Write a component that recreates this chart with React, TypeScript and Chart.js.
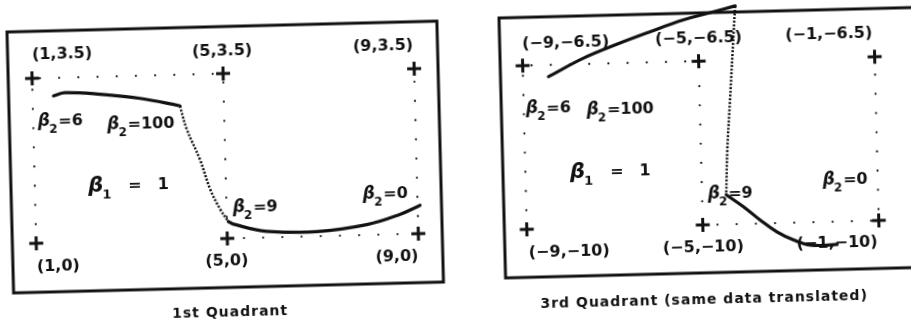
import React, { useEffect, useRef } from "react";
import { Chart, registerables } from "chart.js";

Chart.register(...registerables);

type Pt = { x: number; y: number };

// ---------- First quadrant ----------
const q1Guide: Pt[] = [
  { x: 1, y: 0 }, { x: 1, y: 3.5 }, { x: 5, y: 3.5 },
  { x: 5, y: 0 }, { x: 9, y: 0 }, { x: 9, y: 3.5 },
];
const q1Corners: Pt[] = [
  { x: 1, y: 3.5 }, { x: 5, y: 3.5 }, { x: 9, y: 3.5 },
  { x: 1, y: 0 }, { x: 5, y: 0 }, { x: 9, y: 0 },
];
const q1CornerText = ["(1,3.5)", "(5,3.5)", "(9,3.5)", "(1,0)", "(5,0)", "(9,0)"];
const q1CornerTextAt: Pt[] = [
  { x: 1.64, y: 4.0 }, { x: 4.99, y: 3.98 }, { x: 8.36, y: 4.0 },
  { x: 1.45, y: -0.5 }, { x: 4.98, y: -0.49 }, { x: 8.54, y: -0.48 },
];
// beta2 from 6 up to 100
const q1UpperArc: Pt[] = [
  { x: 1.44, y: 3.12 }, { x: 1.68, y: 3.18 }, { x: 2.42, y: 3.13 },
  { x: 3.25, y: 3.02 }, { x: 4.08, y: 2.84 },
];
// jump between beta2 = 100 and beta2 = 9
const q1Bridge: Pt[] = [
  { x: 4.08, y: 2.84 }, { x: 4.21, y: 2.34 }, { x: 4.47, y: 1.69 },
  { x: 4.67, y: 1.05 }, { x: 4.87, y: 0.62 }, { x: 5.03, y: 0.36 },
];
// beta2 from 9 down to 0
const q1LowerArc: Pt[] = [
  { x: 5.03, y: 0.36 }, { x: 5.14, y: 0.3 }, { x: 5.83, y: 0.13 },
  { x: 6.88, y: 0.1 }, { x: 7.93, y: 0.22 }, { x: 8.63, y: 0.42 }, { x: 9.05, y: 0.6 },
];
const q1BetaSub = ["2", "2", "1", "2", "2"];
const q1BetaRest = ["=6", "=100", "\u2003=\u20031", "=9", "=0"];
const q1BetaAt: Pt[] = [
  { x: 1.57, y: 2.62 }, { x: 3.25, y: 2.5 }, { x: 2.96, y: 1.2 },
  { x: 5.6, y: 0.67 }, { x: 8.33, y: 0.89 },
];

// ---------- Third quadrant (same data translated) ----------
const q3Guide: Pt[] = [
  { x: -9, y: -10 }, { x: -9, y: -6.5 }, { x: -5, y: -6.5 },
  { x: -5, y: -10 }, { x: -1, y: -10 }, { x: -1, y: -6.5 },
];
const q3Corners: Pt[] = [
  { x: -9, y: -6.5 }, { x: -5, y: -6.5 }, { x: -1, y: -6.5 },
  { x: -9, y: -10 }, { x: -5, y: -10 }, { x: -1, y: -10 },
];
const q3CornerText = [
  "(\u22129,\u22126.5)", "(\u22125,\u22126.5)", "(\u22121,\u22126.5)",
  "(\u22129,\u221210)", "(\u22125,\u221210)", "(\u22121,\u221210)",
];
const q3CornerTextAt: Pt[] = [
  { x: -8.01, y: -6.05 }, { x: -4.99, y: -6.03 }, { x: -2.03, y: -6.01 },
  { x: -8.05, y: -10.5 }, { x: -5.0, y: -10.48 }, { x: -1.96, y: -10.47 },
];
const q3UpperArc: Pt[] = [
  { x: -8.42, y: -6.75 }, { x: -7.62, y: -6.375 }, { x: -6.85, y: -6.095 },
  { x: -6.08, y: -5.843 }, { x: -5.32, y: -5.61 }, { x: -4.71, y: -5.47 }, { x: -4.14, y: -5.34 },
];
const q3Bridge: Pt[] = [
  { x: -4.14, y: -5.34 }, { x: -4.19, y: -5.92 }, { x: -4.31, y: -7.35 },
  { x: -4.4, y: -8.41 }, { x: -4.45, y: -9.37 },
];
const q3LowerArc: Pt[] = [
  { x: -4.45, y: -9.37 }, { x: -4.07, y: -9.63 }, { x: -3.69, y: -9.93 },
  { x: -3.32, y: -10.19 }, { x: -2.95, y: -10.37 }, { x: -2.57, y: -10.49 }, { x: -1.96, y: -10.49 },
];
const q3BetaSub = ["2", "2", "1", "2", "2"];
const q3BetaRest = ["=6", "=100", "\u2003=\u20031", "=9", "=0"];
const q3BetaAt: Pt[] = [
  { x: -8.44, y: -7.39 }, { x: -6.81, y: -7.46 }, { x: -7.07, y: -8.78 },
  { x: -4.36, y: -9.31 }, { x: -1.74, y: -9.08 },
];

const INK = "#111";
const FONT = '"DejaVu Sans", "Liberation Sans", sans-serif';

interface PanelSpec {
  id: string;
  left: number;
  top: number;
  areaW: number;
  areaH: number;
  xRange: [number, number];
  yRange: [number, number];
  guide: Pt[];
  corners: Pt[];
  cornerText: string[];
  cornerTextAt: Pt[];
  upper: Pt[];
  bridge: Pt[];
  lower: Pt[];
  betaSub: string[];
  betaRest: string[];
  betaAt: Pt[];
  caption: string;
  captionDx: number;
  captionDy: number;
}

const PAD = { left: 12, top: 14, right: 12, bottom: 44 };

// Greek beta with a numeric subscript, followed by the rest of the note
function drawBeta(ctx: CanvasRenderingContext2D, cx: number, cy: number, sub: string, rest: string, big: boolean) {
  const bSize = big ? 21 : 17;
  const sSize = big ? 13 : 12;
  const rSize = 16;
  ctx.font = `italic bold ${bSize}px ${FONT}`;
  const wB = ctx.measureText("\u03b2").width;
  ctx.font = `bold ${sSize}px ${FONT}`;
  const wS = ctx.measureText(sub).width;
  ctx.font = `bold ${rSize}px ${FONT}`;
  const wR = ctx.measureText(rest).width;
  let x = cx - (wB + wS + wR) / 2;
  const base = cy + 6;
  ctx.textAlign = "left";
  ctx.textBaseline = "alphabetic";
  ctx.font = `italic bold ${bSize}px ${FONT}`;
  ctx.fillText("\u03b2", x, base + (big ? 1 : 0));
  x += wB - 1;
  ctx.font = `bold ${sSize}px ${FONT}`;
  ctx.fillText(sub, x, base + (big ? 8 : 7));
  x += wS + 1;
  ctx.font = `bold ${rSize}px ${FONT}`;
  ctx.fillText(rest, x, base);
}

function makeNotes(spec: PanelSpec) {
  return {
    id: "notes-" + spec.id,
    afterDraw(chart: any) {
      const { ctx, chartArea: a } = chart;
      const xs = chart.scales.x;
      const ys = chart.scales.y;
      ctx.save();
      ctx.strokeStyle = INK;
      ctx.lineWidth = 3;
      ctx.strokeRect(a.left, a.top, a.right - a.left, a.bottom - a.top);

      ctx.fillStyle = INK;
      ctx.font = `bold 16px ${FONT}`;
      ctx.textAlign = "center";
      ctx.textBaseline = "middle";
      spec.cornerText.forEach((t, i) => {
        const p = spec.cornerTextAt[i];
        ctx.fillText(t, xs.getPixelForValue(p.x), ys.getPixelForValue(p.y));
      });

      spec.betaRest.forEach((t, i) => {
        const p = spec.betaAt[i];
        drawBeta(ctx, xs.getPixelForValue(p.x), ys.getPixelForValue(p.y), spec.betaSub[i], t, spec.betaSub[i] === "1");
      });

      ctx.font = `bold 14px ${FONT}`;
      ctx.textAlign = "center";
      ctx.textBaseline = "middle";
      (ctx as any).letterSpacing = "1px";
      ctx.fillText(spec.caption, a.left + spec.captionDx, a.top + spec.captionDy);
      ctx.restore();
    },
  };
}

function Panel({ spec }: { spec: PanelSpec }) {
  const ref = useRef<HTMLCanvasElement>(null);
  const W = spec.areaW + PAD.left + PAD.right;
  const H = spec.areaH + PAD.top + PAD.bottom;

  useEffect(() => {
    const curve = (data: Pt[], dotted: boolean) => ({
      data,
      showLine: true,
      borderColor: INK,
      borderWidth: dotted ? 2.5 : 3.2,
      borderDash: dotted ? [2, 1.7] : [],
      borderCapStyle: dotted ? ("butt" as const) : ("round" as const),
      tension: 0.4,
      pointRadius: 0,
      clip: false as const,
    });
    const chart = new Chart(ref.current!, {
      type: "scatter",
      data: {
        datasets: [
          {
            data: spec.guide,
            showLine: true,
            borderColor: INK,
            borderWidth: 2.2,
            borderDash: [0, 19.2],
            borderCapStyle: "round",
            tension: 0,
            pointRadius: 0,
          },
          curve(spec.upper, false),
          curve(spec.bridge, true),
          curve(spec.lower, false),
          {
            data: spec.corners,
            showLine: false,
            pointStyle: "cross",
            pointRadius: 7,
            pointBorderWidth: 3,
            pointBorderColor: INK,
            pointBackgroundColor: INK,
          },
        ] as any,
      },
      options: {
        responsive: false,
        animation: false,
        events: [],
        layout: { padding: PAD },
        scales: {
          x: { type: "linear", min: spec.xRange[0], max: spec.xRange[1], display: false },
          y: { type: "linear", min: spec.yRange[0], max: spec.yRange[1], display: false },
        },
        plugins: { legend: { display: false }, tooltip: { enabled: false }, title: { display: false } },
      },
      plugins: [makeNotes(spec)],
    });
    return () => chart.destroy();
  }, [spec]);

  return (
    <div
      style={{
        position: "absolute",
        left: spec.left - PAD.left,
        top: spec.top - PAD.top,
        width: W,
        height: H,
        transform: "rotate(-1.45deg)",
        transformOrigin: `${PAD.left}px ${PAD.top}px`,
      }}
    >
      <canvas ref={ref} width={W} height={H} style={{ display: "block", width: W, height: H }} />
    </div>
  );
}

const firstQuadrant: PanelSpec = {
  id: "q1",
  left: 7,
  top: 32,
  areaW: 430,
  areaH: 261,
  xRange: [0.5, 9.5],
  yRange: [-1.04, 4.5],
  guide: q1Guide,
  corners: q1Corners,
  cornerText: q1CornerText,
  cornerTextAt: q1CornerTextAt,
  upper: q1UpperArc,
  bridge: q1Bridge,
  lower: q1LowerArc,
  betaSub: q1BetaSub,
  betaRest: q1BetaRest,
  betaAt: q1BetaAt,
  caption: "1st Quadrant",
  captionDx: 216,
  captionDy: 286,
};

const thirdQuadrant: PanelSpec = {
  id: "q3",
  left: 499,
  top: 18,
  areaW: 430,
  areaH: 260,
  xRange: [-9.51, 0.26],
  yRange: [-11.025, -5.47],
  guide: q3Guide,
  corners: q3Corners,
  cornerText: q3CornerText,
  cornerTextAt: q3CornerTextAt,
  upper: q3UpperArc,
  bridge: q3Bridge,
  lower: q3LowerArc,
  betaSub: q3BetaSub,
  betaRest: q3BetaRest,
  betaAt: q3BetaAt,
  caption: "3rd Quadrant (same data translated)",
  captionDx: 198,
  captionDy: 287,
};

export default function App() {
  return (
    <div style={{ position: "fixed", inset: 0, overflow: "hidden", background: "#fff" }}>
      <Panel spec={firstQuadrant} />
      <Panel spec={thirdQuadrant} />
    </div>
  );
}
